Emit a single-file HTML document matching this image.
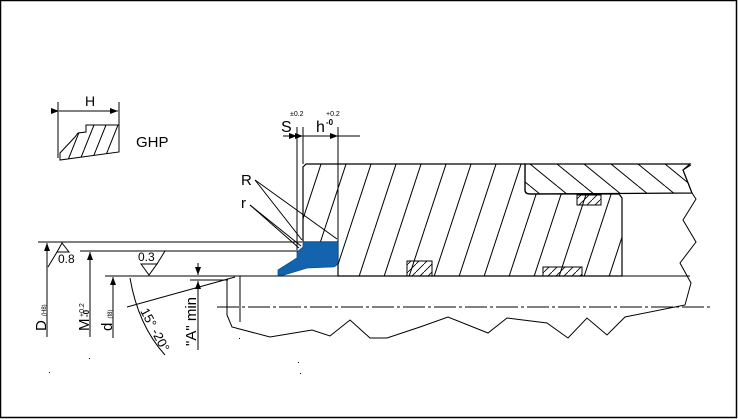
<!DOCTYPE html>
<html><head><meta charset="utf-8"><style>
html,body{margin:0;padding:0;background:#fff;}
svg{display:block;}
text{font-family:"Liberation Sans",Arial,sans-serif;fill:#000;}
</style></head><body>
<svg width="738" height="419" viewBox="0 0 738 419" xmlns="http://www.w3.org/2000/svg">
<defs>
<pattern id="h1" patternUnits="userSpaceOnUse" width="25" height="76" patternTransform="translate(300,0)">
<line x1="0" y1="76" x2="25" y2="0" stroke="#000" stroke-width="1"/>
<line x1="-25" y1="76" x2="0" y2="0" stroke="#000" stroke-width="1"/>
<line x1="25" y1="76" x2="50" y2="0" stroke="#000" stroke-width="1"/>
</pattern>
<pattern id="hi" patternUnits="userSpaceOnUse" width="12" height="30" patternTransform="translate(60,0)">
<line x1="0" y1="30" x2="12" y2="0" stroke="#000" stroke-width="1"/>
<line x1="-12" y1="30" x2="0" y2="0" stroke="#000" stroke-width="1"/>
<line x1="12" y1="30" x2="24" y2="0" stroke="#000" stroke-width="1"/>
</pattern>
<pattern id="h2" patternUnits="userSpaceOnUse" width="27" height="22" patternTransform="translate(530,164)">
<line x1="0" y1="0" x2="27" y2="22" stroke="#000" stroke-width="1"/>
<line x1="-27" y1="0" x2="0" y2="22" stroke="#000" stroke-width="1"/>
<line x1="27" y1="0" x2="54" y2="22" stroke="#000" stroke-width="1"/>
</pattern>
<pattern id="h3" patternUnits="userSpaceOnUse" width="8" height="8">
<line x1="0" y1="8" x2="8" y2="0" stroke="#000" stroke-width="0.8"/>
</pattern>
<marker id="ar" markerWidth="8" markerHeight="6" refX="8" refY="3" orient="auto" markerUnits="userSpaceOnUse"><path d="M0,0 L8,3 L0,6 Z" fill="#000"/></marker>
</defs>
<rect x="0.5" y="0.5" width="736" height="417" fill="#fff" stroke="#000" stroke-width="1.5"/>

<!-- GHP icon -->
<g stroke="#000" stroke-width="1" fill="none">
<line x1="58" y1="102" x2="58" y2="158"/>
<line x1="119" y1="102" x2="119" y2="152"/>
<line x1="59" y1="111" x2="118" y2="111" marker-end="url(#ar)" marker-start="url(#ar)"/>
<path d="M86,125 L119,125 L119,152 L60,160 L60,153 L75,137 L78,133 L86,132 Z" fill="url(#hi)"/>
</g>
<text x="136" y="147" font-size="15">GHP</text>
<text x="85" y="106" font-size="14">H</text>

<!-- main housing hatched -->
<path d="M303,167 L306,164 L525,164 L525,190 Q525,194 530,194 L619,194 L622,198 L622,276 L338,276 L338,242 L303,242 Z" fill="url(#h1)" stroke="#000" stroke-width="1.2"/>
<path d="M530,164 L690,164 L683,170 L692,193 L530,194 Q525,194 525,190 L525,164 Z" fill="url(#h2)" stroke="#000" stroke-width="1.2"/>
<rect x="407" y="261" width="25" height="15" fill="url(#h3)" stroke="#000"/>
<rect x="543" y="267" width="39" height="9" fill="url(#h3)" stroke="#000"/>
<rect x="577" y="195" width="24" height="10" fill="url(#h3)" stroke="#000"/>

<!-- blue seal -->
<path d="M303,242 L338,242 L338,262 Q337,267 331,267 L307,268 L284,275 L278,275 L278,270 L297,258 L297,252 L303,247 Z" fill="#1463ad" stroke="#0d4f8f" stroke-width="0.8"/>

<g stroke="#000" stroke-width="1" fill="none">
<line x1="105" y1="276" x2="690" y2="276"/>
<line x1="38" y1="242" x2="302" y2="242"/>
<line x1="80" y1="251" x2="298" y2="251"/>
<polyline points="691,165 683,170 692,193 696,199 683,220 696,242 680,263 691,283 685,305 625,317 607,335 587,318 568,338 547,323 507,318 488,333 448,317 420,327 387,338 370,338 350,320 330,336 312,330 270,337 232,327 227,315 227,279"/>
<line x1="217" y1="307" x2="710" y2="307" stroke-dasharray="22,3,3,3"/>
<line x1="240" y1="276" x2="240" y2="322"/>
<line x1="297" y1="127" x2="297" y2="250"/>
<line x1="303" y1="127" x2="303" y2="164"/>
<line x1="338" y1="127" x2="338" y2="242"/>
<line x1="283" y1="136" x2="297" y2="136" marker-end="url(#ar)"/>
<line x1="303" y1="136" x2="338" y2="136" marker-end="url(#ar)" marker-start="url(#ar)"/>
<line x1="338" y1="136" x2="360" y2="136"/>
<line x1="255" y1="180" x2="302" y2="240"/>
<line x1="255" y1="180" x2="337" y2="239"/>
<line x1="250" y1="205" x2="299" y2="248"/>
<line x1="250" y1="205" x2="301" y2="246"/>
<line x1="47" y1="337" x2="47" y2="243" marker-end="url(#ar)"/>
<line x1="90" y1="337" x2="90" y2="252" marker-end="url(#ar)"/>
<line x1="113" y1="338" x2="113" y2="277" marker-end="url(#ar)"/>
<path d="M57,252 L62,243 L69,252 Z"/>
<line x1="57" y1="252" x2="48" y2="267"/>
<path d="M141,264 L149,275 L157,264 Z"/>
<line x1="157" y1="264" x2="165" y2="251"/>
<line x1="198" y1="263" x2="198" y2="275" marker-end="url(#ar)"/>
<line x1="198" y1="350" x2="198" y2="281" marker-end="url(#ar)"/>
<line x1="190" y1="280" x2="228" y2="280"/>
<line x1="127" y1="307" x2="235" y2="277"/>
<path d="M130,278 Q138,325 165,355"/>
</g>
<text x="241" y="185" font-size="15">R</text>
<text x="241" y="208" font-size="15">r</text>
<text x="281" y="132" font-size="16">S</text>
<text x="290" y="116" font-size="7">±0.2</text>
<text x="316" y="132" font-size="16">h</text>
<text x="326" y="125" font-size="8" font-weight="bold">-0</text>
<text x="326" y="116" font-size="7">+0.2</text>
<text x="58" y="263" font-size="12">0.8</text>
<text x="138" y="261" font-size="12">0.3</text>
<text transform="translate(46,331) rotate(-90)" font-size="15">D <tspan font-size="6">(H8)</tspan></text>
<text transform="translate(89,331) rotate(-90)" font-size="15">M</text>
<text transform="translate(84,317) rotate(-90)" font-size="7">+0.2</text>
<text transform="translate(89,317) rotate(-90)" font-size="8" font-weight="bold">-0</text>
<text transform="translate(112,331) rotate(-90)" font-size="15">d <tspan font-size="6">(f8)</tspan></text>
<text transform="translate(196,346) rotate(-90)" font-size="15">"A" min</text>
<text transform="translate(140,311) rotate(62)" font-size="13">15° -20°</text>
<g fill="#000"><rect x="49" y="372" width="1" height="1"/><rect x="89" y="358" width="1" height="1"/><rect x="298" y="362" width="1" height="1"/><rect x="300" y="373" width="1" height="1"/><rect x="239" y="338" width="1" height="1"/></g>
</svg>
</body></html>
